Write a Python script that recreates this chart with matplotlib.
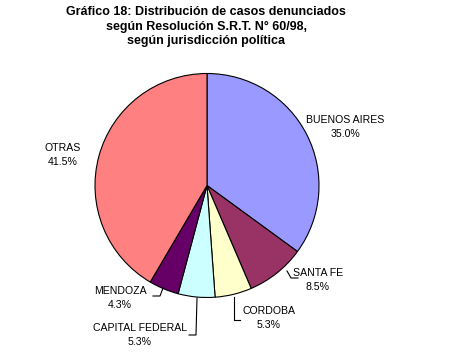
import matplotlib
matplotlib.use("Agg")
import matplotlib.pyplot as plt

plt.rcParams['font.family'] = ['Liberation Sans', 'DejaVu Sans']

provincias = ['BUENOS AIRES', 'SANTA FE', 'CORDOBA', 'CAPITAL FEDERAL', 'MENDOZA', 'OTRAS']
porcentajes = [35.0, 8.5, 5.3, 5.3, 4.3, 41.5]
colores = ['#9999FF', '#993366', '#FFFFCC', '#CCFFFF', '#660066', '#FF8080']

# pie centre and radius in pixels
CX, CY, R = 207, 185.5, 112
W, H = 450, 359

def px(x, y):
    # pixel position -> data coords (pie radius = 1)
    return (x - CX) / R, (CY - y) / R

fig = plt.figure(figsize=(4.5, 3.59), dpi=100)
ax = fig.add_axes([0, 0, 1, 1])
ax.pie(porcentajes, colors=colores, startangle=90, counterclock=False,
       wedgeprops=dict(edgecolor='black', linewidth=0.8))
ax.set_xlim(-CX / R, (W - CX) / R)
ax.set_ylim(-(H - CY) / R, CY / R)
ax.set_aspect('auto')
ax.axis('off')

# label positions (pixels, centre of text block) and leader lines
label_pos = [(345, 127), (318, 280), (269, 318), (140, 335), (120, 298), (63, 155)]
leaders = {
    'SANTA FE': [(287, 271), (291, 278), (298, 278)],
    'CORDOBA': [(234, 297), (234, 320), (240, 320)],
    'CAPITAL FEDERAL': [(197, 298), (196, 335), (189, 335)],
    'MENDOZA': [(163, 288), (160, 296), (153, 296)],
}

for name, pct, (lx, ly) in zip(provincias, porcentajes, label_pos):
    x, y = px(lx, ly)
    ax.text(x, y, '%s\n%.1f%%' % (name, pct), ha='center', va='center',
            fontsize=7.6, linespacing=1.6)
    if name in leaders:
        pts = [px(a, b) for a, b in leaders[name]]
        ax.plot([p[0] for p in pts], [p[1] for p in pts], color='black', lw=0.8)

titulo = ['Gráfico 18: Distribución de casos denunciados',
          'según Resolución S.R.T. N° 60/98,',
          'según jurisdicción política']
for i, t in enumerate(titulo):
    fig.text(206 / W, 1 - (12 + 14.5 * i) / H, t, ha='center', va='center',
             fontsize=9, fontweight='bold')

fig.savefig('out.png', dpi=100)
